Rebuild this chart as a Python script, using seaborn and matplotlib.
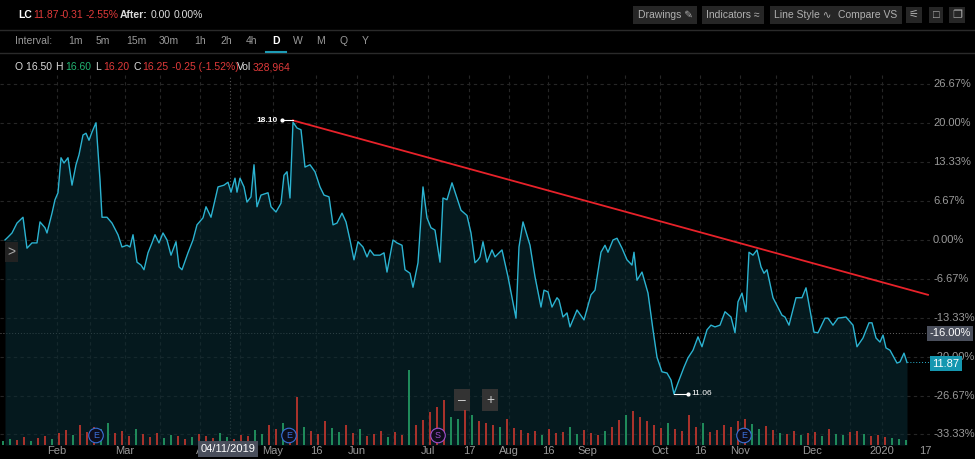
import matplotlib
matplotlib.use("Agg")
import matplotlib.pyplot as plt
import seaborn as sns
import numpy as np
import pandas as pd

plt.rcParams["font.family"] = ["Liberation Sans", "DejaVu Sans"]

# ---- data ----
t = [5,8,12,17,23,27,32,37,40,45,47,52,55,58,61,64,68,72,76,79,83,86,89,92,96,100,102,107,112,118,122,127,130,133,137,141,144,148,152,155,159,163,167,171,176,179,182,188,193,197,203,206,211,218,224,228,231,235,237,240,244,247,251,254,257,261,268,271,276,281,284,287,290,293,297,301,305,310,315,320,324,329,333,337,342,346,350,354,358,363,367,370,374,380,384,387,393,397,402,405,410,413,418,423,427,431,435,440,443,447,452,456,461,467,471,475,478,
     480,483,487,492,495,502,508,516,519,523,530,535,541,544,548,552,557,559,563,567,570,577,584,591,595,601,605,608,613,617,622,627,632,634,637,642,648,653,657,662,667,671,674,678,684,688,693,698,702,707,711,715,720,725,731,735,738,742,746,749,753,757,761,764,767,773,782,785,789,796,802,806,810,814,818,825,828,833,838,846,853,857,863,869,872,876,880,883,886,890,897,900,904,907]
pct = [0,0.5,1.2,2.9,3.9,-1.4,-0.5,-0.5,3.1,2.1,1.2,4.6,6.9,8.1,14.1,13.2,14.1,9.4,12.9,14.6,18.0,18.3,17.1,18.5,20.1,10.3,3.9,3.9,2.9,0.9,-1.2,-0.9,-1.2,0.9,-3.8,-4.3,-5.1,-2.2,-0.5,0.9,-0.5,1.2,0,-2.6,-0.3,-4.6,-5.1,-2.2,0,2.6,3.8,5.7,3.9,9.1,9.4,9.9,8.2,10.6,8.2,10.6,9.1,6.5,7.4,12.9,5.7,7.7,8.1,5.7,4.8,6.3,11.1,11.7,7.2,20.2,19.2,18.9,12.5,12.9,11.7,9.1,7.7,7.4,2.6,2.9,4.6,3.1,0,-3.4,-0.3,-1.2,-2.9,-1.7,-2.6,-2.6,-2.2,-5.5,0,-0.5,-0.9,-5.1,-5.7,-8.1,-3.9,9.1,3.8,2.1,1.7,-3.8,7.2,6.9,9.8,7.7,5.1,4.2,1.2,-3.9,-3.4,
       -2.9,-0.3,-3.8,-1.7,-2.9,-1.7,-6.3,-13.4,-1.2,3.1,-0.9,-6.3,-11.5,-8.6,-8.9,-11.5,-9.9,-10.3,-13.2,-12.5,-14.9,-12.0,-13.7,-9.4,-8.6,-2.1,-0.9,-2.1,0,0.3,-1.4,-3.4,-4.3,-2.1,-6.9,-5.5,-9.1,-15.4,-20.1,-22.6,-22.8,-24.0,-26.4,-24.5,-21.8,-20.2,-18.9,-16.6,-18.3,-15.4,-14.6,-14.9,-14.6,-12.3,-13.2,-15.9,-10.6,-9.1,-12.3,-2.1,-2.6,-1.7,-4.6,-5.7,-5.1,-9.9,-12.9,-13.2,-14.6,-9.9,-9.9,-8.2,-12.0,-15.8,-15.9,-13.4,-13.4,-14.6,-13.4,-13.2,-14.6,-18.3,-16.8,-14.2,-14.2,-16.8,-17.5,-16.3,-18.5,-18.9,-21.1,-20.9,-19.4,-21.0]

vol_t = list(range(3, 910, 7))
vol = [40,60,50,80,40,70,90,60,120,150,100,200,130,180,160,220,120,140,90,160,110,80,120,70,100,90,60,80,110,90,70,120,80,60,100,90,150,110,200,160,220,130,480,180,140,110,240,170,130,200,120,160,90,110,140,80,130,100,750,200,250,330,380,450,280,260,350,300,240,220,200,180,260,170,150,120,140,100,160,120,130,180,110,150,120,100,140,180,250,300,340,280,240,200,170,220,160,140,300,180,220,130,150,200,180,240,260,210,160,190,150,120,110,140,100,120,130,90,160,110,100,130,140,110,90,100,80,70,60,50]
vol_dir = "uudduddudduddduuddduddduudduddduuddduuddudduddduuddudddudduddddduududdduddddduddduudddudduddddduddddudddddduudduddudduduudduddduu"

y_ticks = [26.67, 20.00, 13.33, 6.67, 0.00, -6.67, -13.33, -20.00, -26.67, -33.33]
x_tick_pos = [57, 125, 200, 273, 316, 357, 428, 469, 509, 548, 587, 660, 700, 740, 812, 882, 925]
x_tick_lab = ["Feb", "Mar", "A", "May", "16", "Jun", "Jul", "17", "Aug", "16", "Sep", "Oct", "16", "Nov", "Dec", "2020", "17"]

BG = "#000000"
W, H = 975, 459
fig = plt.figure(figsize=(9.75, 4.59), dpi=100, facecolor=BG)

def fy(py):
    return 1 - py / H

ax = fig.add_axes([0, fy(445), 930 / W, (445 - 75) / H])
ax.set_facecolor(BG)
y_lo = (240 - 445) / 5.833
y_hi = (240 - 75) / 5.833
ax.set_xlim(0, 930)
ax.set_ylim(y_lo, y_hi)

for yv in y_ticks:
    ax.axhline(yv, color="#262626", lw=0.8, ls=(0, (3, 3)), zorder=0)
for xv in [57, 90, 125, 160, 200, 240, 273, 316, 357, 393, 428, 469, 509, 548, 587, 625, 660, 700, 740, 776, 812, 850, 882]:
    ax.axvline(xv, color="#262626", lw=0.8, ls=(0, (3, 3)), zorder=0)
ax.axvline(230, color="#555555", lw=0.8, ls=(0, (1, 2)), zorder=1)

df = pd.DataFrame({"t": t, "pct": pct})
ax.fill_between(df["t"], df["pct"], y_lo, color="#0a2b33", alpha=0.6, zorder=2, lw=0)
sns.lineplot(data=df, x="t", y="pct", ax=ax, color="#2bb3d1", lw=1.0, zorder=3)

# volume on overlay axes
axv = ax.twinx()
axv.set_ylim(0, max(vol) * 370 / 75)
axv.set_xlim(0, 930)
vcol = ["#1f8a5a" if c == "u" else "#a8322b" for c in vol_dir[:len(vol)]]
axv.bar(vol_t[:len(vol)], vol, width=2.2, color=vcol, zorder=1)
axv.axis("off")

# trend line & annotations
ax.plot([293, 928], [20.5, -9.4], color="#e8222a", lw=1.3, zorder=4)
ax.plot([282, 293], [20.5, 20.5], color="white", lw=0.8, zorder=4)
ax.plot([282], [20.5], "o", color="white", ms=2, zorder=4)
ax.text(278, 20.5, "18.10", color="white", fontsize=6, ha="right", va="center", fontweight="bold")
ax.plot([674, 688], [-26.4, -26.4], color="white", lw=0.8, zorder=4)
ax.plot([688], [-26.4], "o", color="white", ms=2, zorder=4)
ax.text(691, -26.4, "11.06", color="white", fontsize=6, ha="left", va="center")
ax.axhline(-16, color="#666666", lw=0.7, ls=(0, (1, 2)), zorder=1)
ax.plot([907, 930], [-21, -21], color="#2bb3d1", lw=0.7, ls=(0, (1, 2)))

for s in ax.spines.values():
    s.set_visible(False)
ax.set_xticks(x_tick_pos)
ax.set_xticklabels(x_tick_lab)
ax.tick_params(axis="x", colors="#9a9a9a", labelsize=8, length=0, pad=1)
ax.set_yticks([])
ax.set_xlabel("")
ax.set_ylabel("")

for yv in y_ticks:
    ax.text(933, yv, f"{yv:.2f}%", color="#9a9a9a", fontsize=8, va="center", ha="left", clip_on=False)
ax.text(950, -16, "-16.00%", color="white", fontsize=8, va="center", ha="center",
        bbox=dict(boxstyle="square,pad=0.25", fc="#4a4f5c", ec="none"), clip_on=False, zorder=9)
ax.text(946, -21.2, "11.87", color="white", fontsize=8, va="center", ha="center",
        bbox=dict(boxstyle="square,pad=0.25", fc="#1597b0", ec="none"), clip_on=False, zorder=9)

fig.text(228 / W, fy(449), "04/11/2019", color="white", fontsize=8, va="center", ha="center",
         bbox=dict(boxstyle="square,pad=0.25", fc="#4a4f5c", ec="none"), zorder=10)

# event markers (on the top axes so they sit above volume)
ev_x = [96, 289, 438, 744]
ev_lab = ["E", "E", "S", "E"]
ev_col = ["#3a6fd8", "#3a6fd8", "#a050d0", "#3a6fd8"]
ev_y = 95
axv.scatter(ev_x, [ev_y] * 4, s=110, facecolor="#0d0d1a", edgecolor=ev_col, lw=0.8, zorder=7)
for xe, lab, col in zip(ev_x, ev_lab, ev_col):
    axv.text(xe, ev_y, lab, color=col, fontsize=6.5, ha="center", va="center", zorder=8)

for xb, lab in [(462, "–"), (490, "+")]:
    ax.text(xb, -27.4, lab, color="#cccccc", fontsize=10, ha="center", va="center",
            bbox=dict(boxstyle="square,pad=0.3", fc="#333333", ec="none"), zorder=8)

fig.text(0.012, fy(252), ">", color="#aaaaaa", fontsize=10, ha="center", va="center",
         bbox=dict(boxstyle="square,pad=0.2", fc="#222222", ec="none"))

# header
fig.add_artist(plt.Line2D([0, 1], [fy(30), fy(30)], color="#2a2a2a", lw=1))
fig.add_artist(plt.Line2D([0, 1], [fy(53), fy(53)], color="#2a2a2a", lw=1))
fig.add_artist(plt.Line2D([266 / W, 286 / W], [fy(52), fy(52)], color="#1e9bb5", lw=1.5))
hy = fy(15)
for xl, lab, c, bold in [(18, "LC", "white", True), (33, "11.87", "#e03a3a", False), (60, "-0.31", "#e03a3a", False),
                         (86, "-2.55%", "#e03a3a", False), (120, "After:", "#dddddd", True),
                         (151, "0.00", "#dddddd", False), (174, "0.00%", "#dddddd", False)]:
    fig.text(xl / W, hy, lab, color=c, fontsize=7.5, va="center", fontweight="bold" if bold else "normal")

iy = fy(41)
fig.text(15 / W, iy, "Interval:", color="#9a9a9a", fontsize=7.5, va="center")
for xl, lab in [(68, "1m"), (96, "5m"), (126, "15m"), (159, "30m"), (194, "1h"), (220, "2h"), (246, "4h"), (272, "D"), (293, "W"), (316, "M"), (340, "Q"), (362, "Y")]:
    fig.text(xl / W, iy, lab, color="white" if lab == "D" else "#9a9a9a", fontsize=7.5, va="center",
             fontweight="bold" if lab == "D" else "normal")

oy = fy(67)
parts = [(15, "O 16.50", "#dddddd"), (55, "H", "#dddddd"), (65, "16.60", "#22b573"), (95, "L", "#dddddd"),
         (103, "16.20", "#e03a3a"), (133, "C", "#dddddd"), (142, "16.25", "#e03a3a"), (172, "-0.25 (-1.52%)", "#e03a3a"),
         (237, "Vol", "#dddddd"), (253, "328,964", "#e03a3a")]
for xl, lab, c in parts:
    fig.text(xl / W, oy, lab, color=c, fontsize=7.5, va="center")

for xc, lab in [(665, "Drawings ✎"), (733, "Indicators ≈"), (803, "Line Style ∿"), (868, "Compare VS")]:
    fig.text(xc / W, hy, lab, color="#b0b0b0", fontsize=7.5, va="center", ha="center",
             bbox=dict(boxstyle="square,pad=0.4", fc="#262626", ec="none"))
for xl, lab in [(914, "⚟"), (936, "□"), (957, "❐")]:
    fig.text(xl / W, hy, lab, color="#b0b0b0", fontsize=8, va="center", ha="center",
             bbox=dict(boxstyle="square,pad=0.3", fc="#262626", ec="none"))

fig.savefig("out.png", dpi=100, facecolor=BG)
